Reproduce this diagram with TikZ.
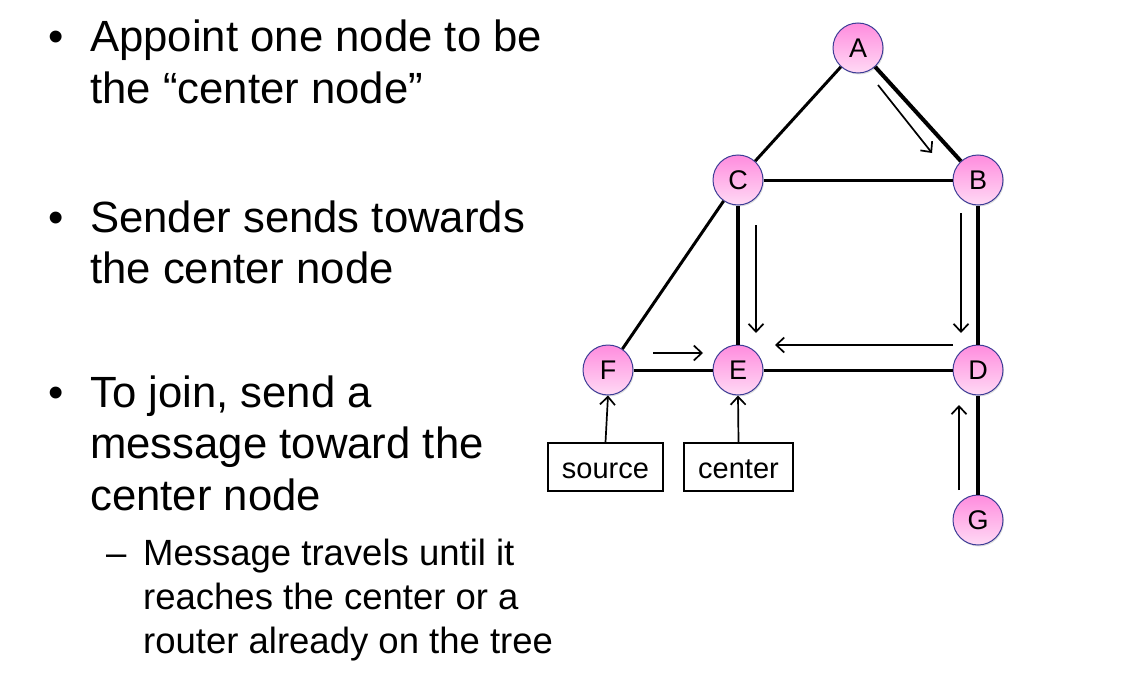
\documentclass[tikz,border=0pt]{standalone}
\usepackage{fontspec}
\setmainfont{Liberation Sans}
\usetikzlibrary{arrows.meta,shadows}
\definecolor{nodetop}{RGB}{255,140,222}
\definecolor{nodebot}{RGB}{255,218,245}
\definecolor{nodeborder}{RGB}{60,60,150}
\tikzset{
  router/.style={circle, minimum size=50pt, inner sep=0pt, draw=nodeborder, line width=1pt,
    top color=nodetop, bottom color=nodebot, font=\fontsize{27}{30}\selectfont,
    drop shadow={shadow xshift=1pt, shadow yshift=-1.5pt, opacity=0.25}},
  edge/.style={line width=3pt},
  tree/.style={line width=4pt},
  msg/.style={line width=1.7pt, -{Straight Barb[length=8pt,width=15pt,line width=1.7pt]}},
  lbox/.style={draw, line width=1.5pt, minimum height=48pt, inner sep=0pt, text height=22pt, text depth=0pt, font=\fontsize{29}{34}\selectfont},
  main/.style={anchor=base west, inner sep=0pt, font=\fontsize{43.7}{52}\selectfont},
  sub/.style={anchor=base west, inner sep=0pt, font=\fontsize{36.5}{44}\selectfont},
}
\begin{document}
\begin{tikzpicture}[x=1pt,y=-1pt]
\useasboundingbox (0,0) rectangle (1146,685);

% bullet text
\node[main] (b1) at (48,52) {•};
\node[main] (t1) at (90,52) {Appoint one node to be};
\node[main] (t2) at (90,103) {the “center node”};
\node[main] (b2) at (48,232) {•};
\node[main] (t3) at (90,232) {Sender sends towards};
\node[main] (t4) at (90,283) {the center node};
\node[main] (b3) at (48,407) {•};
\node[main] (t5) at (90,407) {To join, send a};
\node[main] (t6) at (90,458) {message toward the};
\node[main] (t7) at (90,510) {center node};
\node[sub] (d1) at (106,565) {–};
\node[sub] (s1) at (143,565) {Message travels until it};
\node[sub] (s2) at (143,609) {reaches the center or a};
\node[sub] (s3) at (143,653) {router already on the tree};

% routers
\node[router] (A) at (858,48) {A};
\node[router] (C) at (738,180) {C};
\node[router] (B) at (978,180) {B};
\node[router] (F) at (608,370) {F};
\node[router] (E) at (738,370) {E};
\node[router] (D) at (978,370) {D};
\node[router] (G) at (978,520) {G};

% boxes
\node[lbox, minimum width=115pt] (src) at (605.5,467) {source};
\node[lbox, minimum width=109pt] (ctr) at (738.5,467) {center};

% links
\draw[edge] (A) -- (C);
\draw[tree] (A) -- (B);
\draw[edge] (C) -- (B);
\draw[edge] (C) -- (F);
\draw[tree] (C) -- (E);
\draw[tree] (B) -- (D);
\draw[edge] (F) -- (E);
\draw[edge] (E) -- (D);
\draw[tree] (D) -- (G);

% message arrows
\coordinate (ab1) at (878,85);  \coordinate (ab2) at (932,153);
\coordinate (ce1) at (756,225); \coordinate (ce2) at (756,333);
\coordinate (bd1) at (961,213); \coordinate (bd2) at (961,333);
\coordinate (de1) at (953,345); \coordinate (de2) at (775,345);
\coordinate (fe1) at (653,353); \coordinate (fe2) at (703,353);
\coordinate (gd1) at (959,490); \coordinate (gd2) at (959,405);
\draw[msg] (ab1) -- (ab2);
\draw[msg] (ce1) -- (ce2);
\draw[msg] (bd1) -- (bd2);
\draw[msg] (de1) -- (de2);
\draw[msg] (fe1) -- (fe2);
\draw[msg] (gd1) -- (gd2);
\draw[msg] (src.north) -- (F.south);
\draw[msg] (ctr.north) -- (E.south);
\end{tikzpicture}
\end{document}
